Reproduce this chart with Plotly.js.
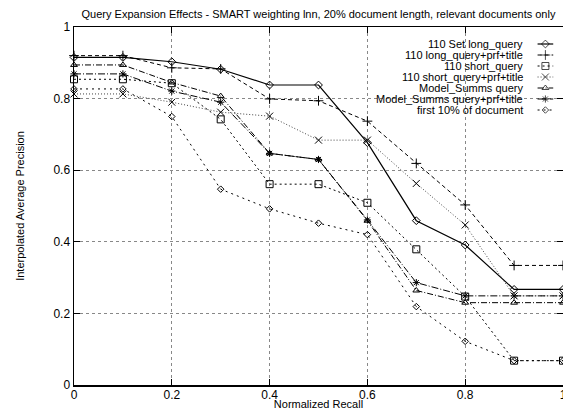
<!DOCTYPE html>
<html>
<head>
<meta charset="utf-8">
<script src="https://cdn.plot.ly/plotly-3.0.1.min.js"></script>
<style>html,body{margin:0;padding:0;background:#fff;}#chart{width:563px;height:410px;}</style>
</head>
<body>
<div id="chart"></div>
<script>
// Recall levels (x axis)
const recall = [0, 0.1, 0.2, 0.3, 0.4, 0.5, 0.6, 0.7, 0.8, 0.9, 1.0];

// Series names
const names = [
  "110 Set long_query",
  "110 long_query+prf+title",
  "110 short_query",
  "110 short_query+prf+title",
  "Model_Summs query",
  "Model_Summs query+prf+title",
  "first 10% of document"
];

// Interpolated average precision values
const longQuery        = [0.915, 0.915, 0.903, 0.882, 0.838, 0.838, 0.677, 0.459, 0.391, 0.267, 0.267];
const longQueryPrf     = [0.920, 0.920, 0.886, 0.883, 0.799, 0.794, 0.737, 0.619, 0.503, 0.334, 0.334];
const shortQuery       = [0.854, 0.854, 0.843, 0.742, 0.561, 0.561, 0.509, 0.379, 0.247, 0.068, 0.068];
const shortQueryPrf    = [0.813, 0.813, 0.790, 0.762, 0.751, 0.684, 0.684, 0.563, 0.447, 0.249, 0.249];
const summsQuery       = [0.894, 0.894, 0.845, 0.807, 0.647, 0.630, 0.459, 0.264, 0.230, 0.230, 0.230];
const summsQueryPrf    = [0.869, 0.869, 0.821, 0.790, 0.647, 0.630, 0.461, 0.286, 0.249, 0.249, 0.249];
const first10          = [0.827, 0.827, 0.750, 0.547, 0.492, 0.452, 0.420, 0.219, 0.122, 0.068, 0.068];

// Axis ticks
const xTicks = [0, 0.2, 0.4, 0.6, 0.8, 1];
const xTickText = ["0", "0.2", "0.4", "0.6", "0.8", "1"];
const yTicks = [0, 0.2, 0.4, 0.6, 0.8, 1];
const yTickText = ["0", "0.2", "0.4", "0.6", "0.8", "1"];

const seriesValues = [longQuery, longQueryPrf, shortQuery, shortQueryPrf, summsQuery, summsQueryPrf, first10];

const styles = [
  {dash: "solid",            width: 1.2, color: "#000", symbol: "diamond-open",    size: 6},
  {dash: "4px,3px",          width: 1.0, color: "#000", symbol: "cross-thin-open", size: 7},
  {dash: "2px,3px",          width: 1.0, color: "#000", symbol: "square-open",     size: 7},
  {dash: "1px,2px",          width: 1.0, color: "#444", symbol: "x-thin-open",     size: 7},
  {dash: "6px,2px,1px,2px",  width: 1.0, color: "#000", symbol: "triangle-up-open",size: 6},
  {dash: "7px,2px,1px,2px",  width: 1.0, color: "#000", symbol: "asterisk-open",   size: 6},
  {dash: "2px,4px",          width: 1.0, color: "#000", symbol: "diamond-open",    size: 5}
];

const traces = names.map((n, i) => ({
  type: "scatter",
  mode: "lines+markers",
  name: n,
  x: recall,
  y: seriesValues[i],
  line: {color: styles[i].color, width: styles[i].width, dash: styles[i].dash},
  marker: {symbol: styles[i].symbol, size: styles[i].size, color: "#000",
           line: {color: "#000", width: 1}},
  cliponaxis: false,
  showlegend: false
}));

// gnuplot-style key: text right-aligned, sample line on the right
// rows are placed on a hidden overlay axis (row index = legend slot)
const keyTextX = 0.921, keyS0 = 0.948, keyS1 = 0.98;
const keyTraces = names.map((n, i) => ({
  type: "scatter",
  mode: "lines+markers",
  xaxis: "x", yaxis: "y2",
  x: [keyS0, (keyS0 + keyS1) / 2, keyS1],
  y: [i, i, i],
  line: {color: styles[i].color, width: styles[i].width, dash: styles[i].dash},
  marker: {symbol: styles[i].symbol, size: [0, styles[i].size, 0], color: "#000",
           line: {color: "#000", width: [0, 1, 0]}},
  cliponaxis: false,
  showlegend: false,
  hoverinfo: "skip"
}));

const font = "Liberation Sans, Arial, Helvetica, sans-serif";

const keyAnnotations = names.map((n, i) => ({
  xref: "x", yref: "y2",
  x: keyTextX, y: i,
  xanchor: "right", yanchor: "middle",
  text: n, showarrow: false,
  font: {family: font, size: 11, color: "#000"},
  bgcolor: "rgba(0,0,0,0)",
  borderpad: 0
}));

const layout = {
  width: 563,
  height: 410,
  margin: {l: 74, r: 0, t: 27, b: 25, pad: 0},
  paper_bgcolor: "#fff",
  plot_bgcolor: "#fff",
  font: {family: font, size: 12, color: "#000"},
  title: {
    text: "Query Expansion Effects - SMART weighting lnn, 20% document length, relevant documents only",
    font: {family: font, size: 11, color: "#000"},
    xref: "paper", x: 0.5, xanchor: "center",
    yref: "container", y: 1 - 14/410, yanchor: "middle"
  },
  xaxis: {
    range: [0, 1],
    tickvals: xTicks, ticktext: xTickText,
    ticks: "inside", ticklen: 6, tickcolor: "#000", tickwidth: 1,
    showline: true, linecolor: "#000", linewidth: 1.5, mirror: "ticks",
    showgrid: true, gridcolor: "#888", griddash: "dot", gridwidth: 1,
    zeroline: false,
    ticklabeloverflow: "allow",
    ticklabelstandoff: -2,
    tickfont: {family: font, size: 12, color: "#000"},
    title: {text: "Normalized Recall", font: {family: font, size: 11, color: "#000"}, standoff: 8},
    automargin: false
  },
  yaxis: {
    range: [0, 1],
    tickvals: yTicks, ticktext: yTickText,
    ticks: "inside", ticklen: 6, tickcolor: "#000", tickwidth: 1,
    showline: true, linecolor: "#000", linewidth: 1.5, mirror: "ticks",
    showgrid: true, gridcolor: "#888", griddash: "dot", gridwidth: 1,
    zeroline: false,
    tickfont: {family: font, size: 12, color: "#000"},
    title: {text: "Interpolated Average Precision", font: {family: font, size: 11, color: "#000"}, standoff: 26},
    automargin: false
  },
  yaxis2: {
    overlaying: "y", anchor: "x",
    range: [31, -1.545],
    visible: false, showgrid: false, zeroline: false, fixedrange: true
  },
  annotations: keyAnnotations,
  showlegend: false
};

Plotly.newPlot("chart", traces.concat(keyTraces), layout, {staticPlot: true, displayModeBar: false});
</script>
</body>
</html>
